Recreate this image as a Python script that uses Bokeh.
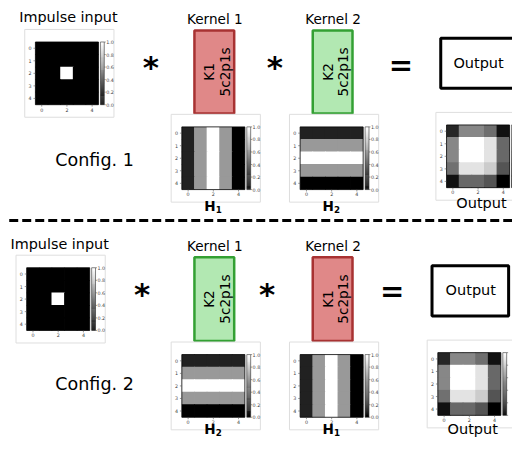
import math
from bokeh.plotting import figure
from bokeh.models import Range1d, LinearColorMapper, ColumnDataSource
from bokeh.palettes import Greys256
from bokeh.transform import transform
from bokeh.core.properties import value
from bokeh.embed import file_html
from bokeh.resources import INLINE

# ---------------- data ----------------
impulse_input = [
    [0, 0, 0, 0, 0],
    [0, 0, 0, 0, 0],
    [0, 0, 1, 0, 0],
    [0, 0, 0, 0, 0],
    [0, 0, 0, 0, 0],
]
kernel_h1 = [
    [0.13, 0.6, 1.0, 0.6, 0.0],
    [0.13, 0.6, 1.0, 0.6, 0.0],
    [0.13, 0.6, 1.0, 0.6, 0.0],
    [0.13, 0.6, 1.0, 0.6, 0.0],
    [0.13, 0.6, 1.0, 0.6, 0.0],
]
kernel_h2 = [
    [0.13, 0.13, 0.13, 0.13, 0.13],
    [0.6, 0.6, 0.6, 0.6, 0.6],
    [1.0, 1.0, 1.0, 1.0, 1.0],
    [0.6, 0.6, 0.6, 0.6, 0.6],
    [0.0, 0.0, 0.0, 0.0, 0.0],
]
output_map = [
    [0.15, 0.53, 0.53, 0.43, 0.07],
    [0.53, 1.0, 1.0, 0.89, 0.41],
    [0.53, 1.0, 1.0, 0.89, 0.41],
    [0.44, 0.89, 0.89, 0.80, 0.33],
    [0.07, 0.41, 0.41, 0.33, 0.0],
]
row_ticks = ["0", "1", "2", "3", "4"]
col_ticks = ["0", "2", "4"]
cbar_ticks = ["0.0", "0.2", "0.4", "0.6", "0.8", "1.0"]

FONT = value("DejaVu Sans")
S = 512 / 528.0
XMAX = 528


def fs(px):
    return f"{px * S:.1f}px"


p = figure(width=512, height=438, x_range=Range1d(0, 528), y_range=Range1d(454, 0),
           output_backend="svg", toolbar_location=None, min_border=0)
p.axis.visible = False
p.grid.visible = False
p.outline_line_color = None
p.background_fill_color = "white"
p.border_fill_color = "white"

mapper = LinearColorMapper(palette=Greys256, low=0, high=1)
CELL = 13


def txt(x, y, t, size, bold=False, align="center", baseline="middle", angle=0, color="black"):
    p.text(x=[x], y=[y], text=[t], text_font=FONT, text_font_size=fs(size),
           text_font_style="bold" if bold else "normal", text_align=align,
           text_baseline=baseline, angle=angle, text_color=color)


def panel(hx, hy, mat):
    size = CELL * 5
    p.quad(left=[hx - 11], right=[hx + 81], top=[hy - 13], bottom=[hy + 78],
           fill_color="white", line_color="#dedede", line_width=1)
    ls, rs, ts, bs, vs = [], [], [], [], []
    ov = 0.4
    for i, row in enumerate(mat):
        for j, v in enumerate(row):
            ls.append(hx + j * CELL - (ov if j > 0 else 0))
            rs.append(hx + (j + 1) * CELL + (ov if j < 4 else 0))
            ts.append(hy + i * CELL - (ov if i > 0 else 0))
            bs.append(hy + (i + 1) * CELL + (ov if i < 4 else 0))
            vs.append(v)
    src = ColumnDataSource(dict(l=ls, r=rs, t=ts, b=bs, v=vs))
    p.quad(left="l", right="r", top="t", bottom="b", source=src,
           fill_color=transform("v", mapper), line_color=None)
    p.quad(left=[hx], right=[hx + size], top=[hy], bottom=[hy + size],
           fill_color=None, line_color="black", line_width=0.8)
    # y ticks
    for i, lab in enumerate(row_ticks):
        yy = hy + (i + 0.5) * CELL
        p.segment(x0=[hx - 2], y0=[yy], x1=[hx], y1=[yy], line_color="#555", line_width=0.6)
        txt(hx - 4, yy, lab, 5, align="right", color="#444")
    for k, lab in enumerate(col_ticks):
        xx = hx + (2 * k + 0.5) * CELL
        p.segment(x0=[xx], y0=[hy + size], x1=[xx], y1=[hy + size + 2], line_color="#555", line_width=0.6)
        txt(xx, hy + size + 5, lab, 5, color="#444")
    # colorbar
    cx0, cx1 = hx + 67, hx + 71
    nseg = 64
    segs = [k / (nseg - 1) for k in range(nseg)]
    h = size / nseg
    src2 = ColumnDataSource(dict(
        l=[cx0] * nseg, r=[cx1] * nseg,
        t=[hy + size - (k + 1) * h - 0.3 for k in range(nseg)],
        b=[hy + size - k * h for k in range(nseg)], v=segs))
    p.quad(left="l", right="r", top="t", bottom="b", source=src2,
           fill_color=transform("v", mapper), line_color=None)
    p.quad(left=[cx0], right=[cx1], top=[hy], bottom=[hy + size],
           fill_color=None, line_color="#333", line_width=0.6)
    for k, lab in enumerate(cbar_ticks):
        yy = hy + size - k * size / 5
        p.segment(x0=[cx1], y0=[yy], x1=[cx1 + 1.5], y1=[yy], line_color="#555", line_width=0.6)
        if cx1 + 2 < XMAX - 4:
            txt(cx1 + 2, yy, lab, 5, align="left", color="#444")


def kernel_box(x0, y0, x1, y1, fill, edge, name):
    p.quad(left=[x0], right=[x1], top=[y0], bottom=[y1], fill_color=fill,
           line_color=edge, line_width=2.5)
    cy = (y0 + y1) / 2
    txt(x0 + 15.5, cy, name, 14, angle=math.pi / 2)
    txt(x0 + 31.5, cy, "5c2p1s", 14, angle=math.pi / 2)


RED_FILL, RED_EDGE = "#e08888", "#a83232"
GREEN_FILL, GREEN_EDGE = "#b2e8b2", "#33a033"

# ---------------- Config 1 ----------------
txt(70, 17, "Impulse input", 14.8)
panel(36, 43, impulse_input)
txt(155, 69, "*", 32, bold=True, baseline="alphabetic")
txt(221, 19, "Kernel 1", 14)
kernel_box(200, 31, 241, 117, RED_FILL, RED_EDGE, "K1")
txt(283, 69, "*", 32, bold=True, baseline="alphabetic")
txt(343, 19, "Kernel 2", 14)
kernel_box(322, 31, 363, 117, GREEN_FILL, GREEN_EDGE, "K2")
txt(413, 66.5, "=", 30, bold=True, baseline="alphabetic")
p.quad(left=[454], right=[540], top=[39], bottom=[91], fill_color="white",
       line_color="black", line_width=3)
txt(493, 65, "Output", 15)
panel(187, 131, kernel_h1)
panel(309, 131, kernel_h2)
panel(460, 129, output_map)
txt(97, 165, "Config. 1", 18)
txt(216, 213, "H", 14, bold=True)
txt(225, 217, "1", 9, bold=True)
txt(338, 213, "H", 14, bold=True)
txt(347, 217, "2", 9, bold=True)
txt(496, 210, "Output", 15)

# dashed separator
p.segment(x0=[9], y0=[228], x1=[528], y1=[228], line_color="black", line_width=3,
          line_dash="9 4")

# ---------------- Config 2 ----------------
txt(61, 252, "Impulse input", 14.8)
panel(27, 277, impulse_input)
txt(146, 304, "*", 32, bold=True, baseline="alphabetic")
txt(221, 254, "Kernel 1", 14)
kernel_box(200, 266, 241, 353, GREEN_FILL, GREEN_EDGE, "K2")
txt(275, 304, "*", 32, bold=True, baseline="alphabetic")
txt(343, 254, "Kernel 2", 14)
kernel_box(322, 266, 363, 353, RED_FILL, RED_EDGE, "K1")
txt(404, 301.5, "=", 30, bold=True, baseline="alphabetic")
p.quad(left=[445], right=[524], top=[275], bottom=[327], fill_color="white",
       line_color="black", line_width=3)
txt(485, 300, "Output", 15)
panel(187, 367, kernel_h2)
panel(309, 367, kernel_h1)
panel(451, 365, output_map)
txt(97, 397, "Config. 2", 18)
txt(216, 444.5, "H", 14, bold=True)
txt(225, 447.5, "2", 9, bold=True)
txt(338, 444.5, "H", 14, bold=True)
txt(347, 447.5, "1", 9, bold=True)
txt(487, 444.5, "Output", 15)

open("out.html", "w").write(file_html(p, INLINE))
